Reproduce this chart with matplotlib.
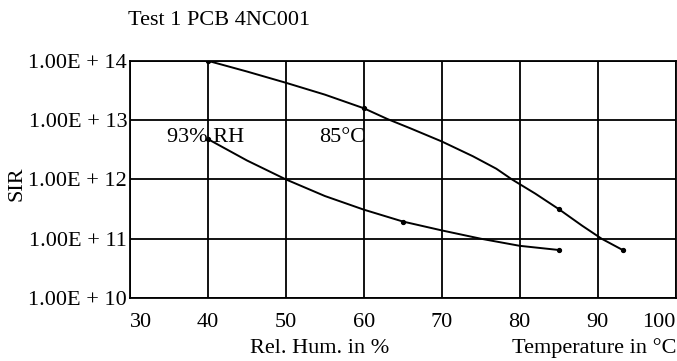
import numpy as np
import matplotlib.pyplot as plt

plt.rcParams['font.family'] = ['Liberation Serif', 'DejaVu Serif']

temp_x = [40, 60, 85, 93.2]
temp_sir = [1.0e14, 1.6e13, 3.2e11, 6.5e10]
hum_x = [40, 65, 85]
hum_sir = [4.8e12, 1.9e11, 6.5e10]

# Drawn curve (log10 values)
temp_curve_x = [40, 45, 50, 55, 60, 63, 66, 70, 74, 77, 79, 82, 85, 88, 90.5, 93.2]
temp_curve_log = [14.0, 13.82, 13.63, 13.43, 13.2, 13.02, 12.86, 12.64, 12.39, 12.18, 12.0, 11.76, 11.5, 11.22, 11.0, 10.81]
hum_curve_x = [40, 45, 50, 55, 60, 65, 70, 75, 80, 85]
hum_curve_log = [12.68, 12.32, 12.0, 11.72, 11.49, 11.29, 11.14, 11.0, 10.88, 10.81]

xticks = [30, 40, 50, 60, 70, 80, 90, 100]
yticks = [1e10, 1e11, 1e12, 1e13, 1e14]
ytick_labels = ['1.00E + 10', '1.00E + 11', '1.00E + 12', '1.00E + 13', '1.00E + 14']

fig = plt.figure(figsize=(6.77, 3.61), dpi=100)
ax = fig.add_axes([0.192, 0.1745, 0.806, 0.657])

ax.plot(temp_curve_x, 10 ** np.array(temp_curve_log), color='black', lw=1.4)
ax.plot(hum_curve_x, 10 ** np.array(hum_curve_log), color='black', lw=1.4)
ax.plot(temp_x, temp_sir, 'o', color='black', ms=2.8)
ax.plot(hum_x, hum_sir, 'o', color='black', ms=2.8)

ax.set_yscale('log')
ax.set_xlim(30, 100)
ax.set_ylim(1e10, 1e14)
ax.set_xticks(xticks)
ax.set_yticks(yticks)
ax.set_yticklabels(ytick_labels)
ax.minorticks_off()
ax.tick_params(length=0, labelsize=16)
ax.tick_params(axis='x', pad=11)
ax.tick_params(axis='y', pad=2)
xl = ax.get_xticklabels()
xl[0].set_horizontalalignment('left')
xl[-1].set_horizontalalignment('right')
ax.grid(True, color='black', lw=1.3)
for s in ax.spines.values():
    s.set_linewidth(1.3)

ax.text(39.7, 10 ** 12.70, '93% RH', fontsize=16, ha='center', va='center')
ax.text(57.2, 10 ** 12.70, '85°C', fontsize=16, ha='center', va='center')

fig.text(0.323, 0.943, 'Test 1 PCB 4NC001', fontsize=16, ha='center', va='center')
fig.text(0.472, 0.036, 'Rel. Hum. in %', fontsize=16, ha='center', va='center')
fig.text(1.0, 0.036, 'Temperature in °C', fontsize=16, ha='right', va='center')
fig.text(0.025, 0.49, 'SIR', fontsize=16, rotation=90, ha='center', va='center')

fig.savefig('out.png', dpi=100)
